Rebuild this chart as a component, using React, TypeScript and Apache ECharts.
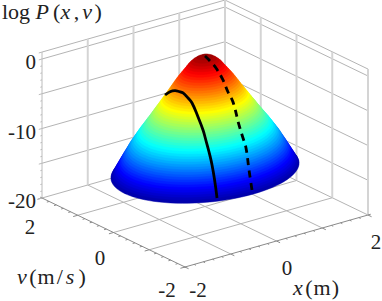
import React, { useEffect, useRef } from "react";
import * as echarts from "echarts";

// ---- axis ticks
const xTicks = [-2, -1, 0, 1, 2];
const vTicks = [-2, -1, 0, 1, 2];
const zGrid = [-20, -15, -10, -5, 0, 1];
const xMinor = [-1.8, -1.6, -1.4, -1.2, -0.8, -0.6, -0.4, -0.2, 0.2, 0.4, 0.6, 0.8, 1.2, 1.4, 1.6, 1.8];
const zMinor = [-19, -18, -17, -16, -14, -13, -12, -11, -9, -8, -7, -6, -4, -3, -2, -1];
const zLabels = ["0", "-10", "-20"];
const vLabels = ["2", "0", "-2"];
const xLabels = ["-2", "0", "2"];

// ---- surface: height of each contour ring and its relative radius
const ringZ = [
  -14.82, -14.7, -14.4, -14.1, -13.8, -13.5, -13.2, -12.9, -12.6, -12.3, -12.0, -11.7, -11.4, -11.1, -10.8,
  -10.5, -10.2, -9.9, -9.6, -9.3, -9.0, -8.7, -8.4, -8.1, -7.8, -7.5, -7.2, -6.9, -6.6, -6.3, -6.0, -5.7,
  -5.4, -5.1, -4.8, -4.5, -4.2, -3.9, -3.6, -3.3, -3.0, -2.7, -2.4, -2.1, -1.8, -1.5, -1.2, -0.9, -0.6,
  -0.3, 0.0, 0.3, 0.6, 0.9, 1.2, 1.5, 1.75,
];
const ringRadius = [
  1.0, 0.995, 0.981, 0.968, 0.954, 0.941, 0.927, 0.914, 0.9, 0.887, 0.873, 0.859, 0.845, 0.831, 0.818,
  0.804, 0.788, 0.772, 0.756, 0.74, 0.724, 0.708, 0.691, 0.673, 0.656, 0.639, 0.621, 0.604, 0.587, 0.57,
  0.554, 0.537, 0.52, 0.503, 0.487, 0.47, 0.454, 0.437, 0.42, 0.404, 0.388, 0.372, 0.356, 0.34, 0.324,
  0.307, 0.29, 0.271, 0.252, 0.233, 0.214, 0.196, 0.178, 0.154, 0.126, 0.089, 0.036,
];
const xRadius = 1.76;
const vRadius = 1.36;

// ---- the two slices
const solidX = -0.62;
const solidV = [0.324, 0.185, 0.045, -0.067, -0.179, -0.319, -0.431, -0.599, -0.738, -0.794, -0.99, -1.13];
const solidZ = [-3.6, -2.78, -2.29, -2.13, -2.06, -2.44, -2.88, -4.48, -6.0, -6.87, -10.41, -14.81];
const dashedX = 0;
const dashedV = [0, -0.14, -0.308, -0.503, -0.643, -0.783, -0.951, -1.063, -1.147, -1.231, -1.315];
const dashedZ = [1.65, 1.28, 0.69, -0.55, -1.93, -3.02, -5.91, -7.51, -8.73, -11.69, -14.36];

const jetStops = ["#00008f", "#0000ff", "#00ffff", "#ffff00", "#ff0000", "#800000"];
const jetPos = [0, 0.125, 0.375, 0.625, 0.875, 1];
const zColorMin = -15.3;
const zColorMax = 2.01;

// fixed view of the box on the page
const project = (x: number, v: number, z: number): [number, number] => [
  205 + 45.75 * x - 35.75 * v,
  206.5 - 13 * x - 17.25 * v - (z + 20) * 6.95,
];

const jet = (z: number) => {
  const t = Math.min(1, Math.max(0, (z - zColorMin) / (zColorMax - zColorMin)));
  let i = 0;
  while (i < jetPos.length - 2 && t > jetPos[i + 1]) i++;
  const u = (t - jetPos[i]) / (jetPos[i + 1] - jetPos[i]);
  return echarts.color.lerp(u, [jetStops[i], jetStops[i + 1]]) as string;
};

type Seg = [number, number, number, number, number, number, number];
const buildSegments = (): Seg[] => {
  const s: Seg[] = [];
  const add = (a: number[], b: number[], k: number) => s.push([a[0], a[1], a[2], b[0], b[1], b[2], k]);
  // kind 0 = thin grid, 1 = pale vertical grid, 2 = dark edge, 3 = pale axis
  for (const z of zGrid) {
    add([-2, 2, z], [2, 2, z], 0);
    add([2, 2, z], [2, -2, z], 0);
  }
  for (const x of xTicks) {
    if (x > -2) add([x, 2, -20], [x, 2, 1], 1);
    if (x > -2 && x < 2) add([x, -2, -20], [x, 2, -20], 0);
  }
  for (const v of vTicks) {
    if (v < 2) add([2, v, -20], [2, v, 1], 1);
    if (v > -2 && v < 2) add([-2, v, -20], [2, v, -20], 0);
  }
  add([-2, 2, -20], [-2, 2, 1], 3);
  add([-2, -2.03, -20], [-2, 2.05, -20], 2);
  add([-2.03, -2, -20], [2.06, -2, -20], 2);
  // ticks
  for (const x of xTicks) add([x, -2, -20], [x, -2.1, -20], 2);
  for (const x of xMinor) add([x, -2, -20], [x, -2.05, -20], 2);
  for (const v of vTicks) add([-2, v, -20], [-2.1, v, -20], 2);
  for (const v of xMinor) add([-2, v, -20], [-2.05, v, -20], 2);
  for (const z of [-20, -15, -10, -5, 0]) add([-2, 2, z], [-2.07, 2, z], 3);
  for (const z of zMinor) add([-2, 2, z], [-2.035, 2, z], 3);
  add([-2, 2, 1], [-2.07, 2, 1], 3);
  return s;
};

const wireStyle = [
  { stroke: "#b4b4b4", lineWidth: 1 },
  { stroke: "#d4d4d4", lineWidth: 2 },
  { stroke: "#8a8a8a", lineWidth: 1 },
  { stroke: "#bcbcbc", lineWidth: 1 },
];

const FONT = "'Liberation Serif', serif";
const label = (text: string, x: number, y: number, align = "center") => ({
  type: "text",
  x,
  y,
  silent: true,
  style: { text, x: 0, y: 0, fontFamily: FONT, fontSize: 21, fill: "#222", align, verticalAlign: "middle" },
});
const base = { fontFamily: FONT, fontSize: 22, fill: "#222", lineHeight: 20 };
const ital = { ...base, fontStyle: "italic" };
const math = (text: string, x: number, y: number) => ({
  type: "text",
  x,
  y,
  silent: true,
  style: {
    text,
    fontFamily: FONT,
    fontSize: 22,
    lineHeight: 20,
    fill: "#222",
    verticalAlign: "middle",
    rich: {
      r: base,
      g: { ...base, padding: [0, 1, 0, 0] },
      s: { ...base, padding: [0, 3, 0, 1] },
      i: { ...ital, padding: [0, 2.5, 0, 0] },
      w: { ...ital, padding: [0, 4, 0, 0] },
    },
  },
});

export default function App() {
  const ref = useRef<HTMLDivElement>(null);
  useEffect(() => {
    document.body.style.margin = "0";
    const chart = echarts.init(ref.current!, null, { renderer: "svg" });
    const solid = solidV.map((v, i) => project(solidX, v, solidZ[i]));
    const dashed = dashedV.map((v, i) => project(dashedX, v, dashedZ[i]));
    const zPos = [0, -10, -20];
    chart.setOption({
      animation: false,
      backgroundColor: "#fff",
      grid: { left: 0, right: 0, top: 0, bottom: 0 },
      xAxis: { type: "value", min: 0, max: 382, show: false },
      yAxis: { type: "value", min: 0, max: 301, inverse: true, show: false },
      graphic: [
        math("{r|log }{w|P}{r|(}{i|x}{s|,}{i|v}{r|)}", 2, 11),
        ...zLabels.map((t, i) => {
          const p = project(-2, 2, zPos[i]);
          return label(t, p[0] - 6, p[1] + 3, "right");
        }),
        label(vLabels[0], 30, 227),
        label(vLabels[1], 100, 258),
        label(vLabels[2], 167, 290),
        label(xLabels[0], 198, 290),
        label(xLabels[1], 287, 268),
        label(xLabels[2], 376, 242),
        math("{i|v}{g|(}{g|m}{s|/}{w|s}{r|)}", 17, 276),
        math("{i|x}{g|(}{g|m}{r|)}", 293, 287),
      ],
      series: [
        {
          type: "custom",
          coordinateSystem: "cartesian2d",
          clip: false,
          silent: true,
          z: 1,
          data: buildSegments(),
          renderItem: (_: any, api: any) => {
            const a = api.coord(project(api.value(0), api.value(1), api.value(2)));
            const b = api.coord(project(api.value(3), api.value(4), api.value(5)));
            return {
              type: "line",
              shape: { x1: a[0], y1: a[1], x2: b[0], y2: b[1] },
              style: { ...wireStyle[api.value(6)], fill: null },
            };
          },
        },
        {
          type: "custom",
          coordinateSystem: "cartesian2d",
          clip: false,
          silent: true,
          z: 2,
          data: ringZ.map((z, i) => [z, ringRadius[i]]),
          renderItem: (_: any, api: any) => {
            const z = api.value(0);
            const s = api.value(1);
            const points: number[][] = [];
            for (let k = 0; k < 96; k++) {
              const t = (k / 96) * Math.PI * 2;
              points.push(api.coord(project(xRadius * s * Math.cos(t), vRadius * s * Math.sin(t), z)));
            }
            const c = jet(z);
            return { type: "polygon", shape: { points }, style: { fill: c, stroke: c, lineWidth: 0.5 } };
          },
        },
        {
          type: "line",
          data: solid,
          z: 3,
          clip: false,
          silent: true,
          showSymbol: false,
          smooth: 0.4,
          lineStyle: { color: "#000", width: 2.8 },
        },
        {
          type: "line",
          data: dashed,
          z: 3,
          clip: false,
          silent: true,
          showSymbol: false,
          smooth: 0.4,
          lineStyle: { color: "#000", width: 2.8, type: [7, 5.5] },
        },
      ],
    });
    return () => chart.dispose();
  }, []);
  return <div ref={ref} style={{ position: "fixed", left: 0, top: 0, width: 382, height: 301 }} />;
}
